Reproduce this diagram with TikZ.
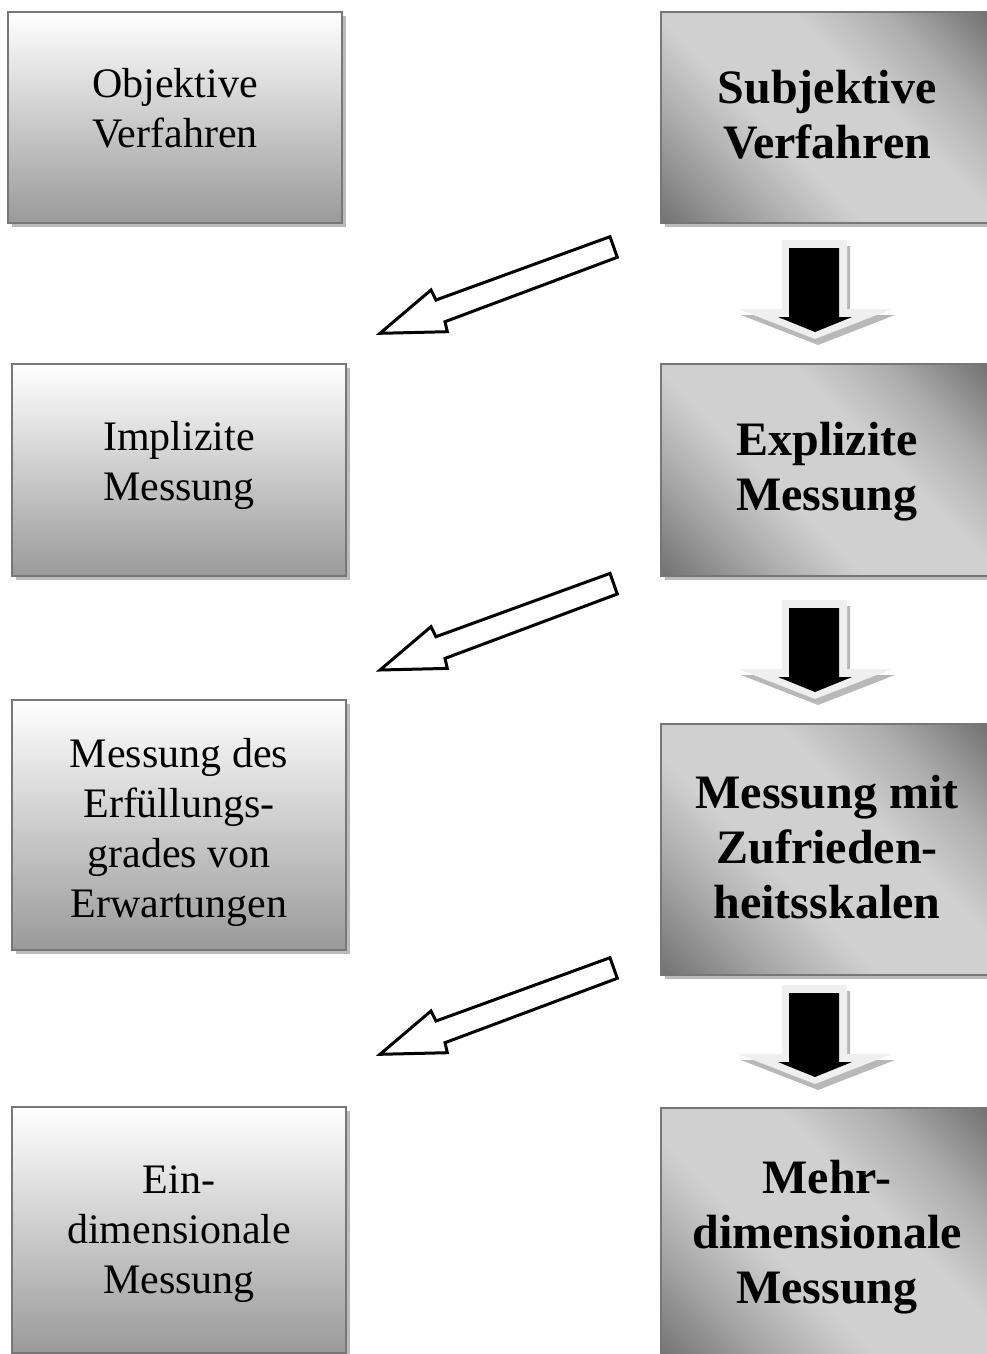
\documentclass[tikz,border=0pt]{standalone}
\usepackage{fontspec}
\setmainfont{Liberation Serif}
\usetikzlibrary{shadows}
\definecolor{boxline}{HTML}{777777}
\definecolor{lbot}{HTML}{9A9A9A}
\definecolor{shadowc}{HTML}{BBBBBB}
\definecolor{dface}{HTML}{EFEFEF}
\definecolor{dside}{HTML}{B8B8B8}
\definecolor{rA}{HTML}{747474}
\definecolor{rB}{HTML}{ADADAD}
\definecolor{rC}{HTML}{D0D0D0}
\definecolor{rD}{HTML}{6C6C6C}
\pgfdeclareverticalshading{rdiag}{100bp}{color(0bp)=(rA); color(15bp)=(rA); color(30bp)=(rB); color(41bp)=(rC); color(59bp)=(rC); color(71bp)=(rB); color(86bp)=(rD); color(100bp)=(rD)}
\tikzset{
  boxbase/.style={rectangle, draw=boxline, line width=2pt, inner sep=0pt,
    minimum width=334pt,
    drop shadow={shadow xshift=4pt, shadow yshift=-4pt, fill=shadowc, opacity=1}},
  lbox/.style={boxbase, top color=white, bottom color=lbot},
  rbox/.style={boxbase, shading=rdiag, shading angle=-45},
  ltext/.style={align=center, inner sep=0pt, font=\fontsize{42}{50}\selectfont},
  rtext/.style={align=center, inner sep=0pt, font=\fontsize{48}{55}\selectfont\bfseries},
  harrow/.style={draw=black, fill=white, line width=3pt, line join=miter},
  dblack/.style={fill=black},
  dlight/.style={fill=dface},
  dshade/.style={fill=dside}
}
\newcommand\hollowarrow[1]{%
  \draw[harrow, shift={(0,#1)}] (610,236.7) -- (617.3,257.3) -- (445,321.7) -- (447.3,331.7)
     -- (380,333.3) -- (431,290) -- (436,300) -- cycle;}
\newcommand\downblock[1]{%
  \fill[dshade, shift={(3,6)}, shift={(0,#1)}] (782,240) -- (847,240) -- (847,309) -- (892,309)
     -- (815,339) -- (738,309) -- (782,309) -- cycle;
  \fill[dlight, shift={(0,#1)}] (782,240) -- (847,240) -- (847,309) -- (892,309)
     -- (815,339) -- (738,309) -- (782,309) -- cycle;
  \fill[dblack, shift={(0,#1)}] (789,248) -- (839,248) -- (839,317) -- (852,317)
     -- (815,332) -- (778,317) -- (789,317) -- cycle;}
\begin{document}
\begin{tikzpicture}[x=1pt, y=-1pt]
\useasboundingbox (0,0) rectangle (986,1354);
% left column boxes
\node[lbox, minimum height=211pt] (L1) at (175,117.5) {};
\node[lbox, minimum height=212pt] (L2) at (179,470) {};
\node[lbox, minimum height=250pt] (L3) at (179,825) {};
\node[lbox, minimum height=246pt] (L4) at (179,1230) {};
% right column boxes
\node[rbox, minimum height=211pt] (R1) at (828,117.5) {};
\node[rbox, minimum height=212pt] (R2) at (828,470) {};
\node[rbox, minimum height=251pt] (R3) at (828,849.5) {};
\node[rbox, minimum height=252pt] (R4) at (828,1234) {};
% texts
\node[ltext] (L1t) at (175,108.5) {Objektive\\Verfahren};
\node[ltext] (L2t) at (179,465) {Implizite\\Messung};
\node[ltext] (L3t) at (179,832.5) {Messung des\\Erfüllungs-\\grades von\\Erwartungen};
\node[ltext] (L4t) at (179,1234.5) {Ein-\\dimensionale\\Messung};
\node[rtext] (R1t) at (827,114.5) {Subjektive\\Verfahren};
\node[rtext] (R2t) at (827,472) {Explizite\\Messung};
\node[rtext] (R3t) at (827,847.5) {Messung mit\\Zufrieden-\\heitsskalen};
\node[rtext] (R4t) at (827,1237) {Mehr-\\dimensionale\\Messung};
% hollow diagonal arrows
\hollowarrow{0}
\hollowarrow{336.7}
\hollowarrow{721}
% down arrows
\downblock{0}
\downblock{360}
\downblock{745}
\end{tikzpicture}
\end{document}
